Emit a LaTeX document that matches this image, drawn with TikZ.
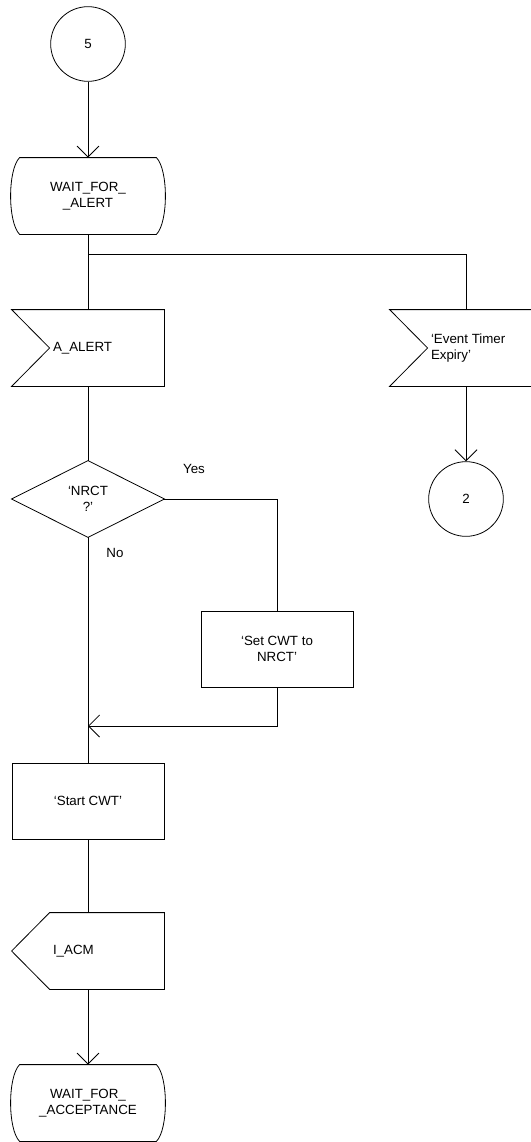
\documentclass[tikz,border=0pt]{standalone}
\usepackage{fontspec}
\setmainfont{Liberation Sans}
\usetikzlibrary{arrows.meta,calc}

\newcommand{\sdlstateoutline}[1]{\draw ([xshift=6pt]#1.north west) -- ([xshift=-6pt]#1.north east) .. controls +(9pt,-9pt) and +(9pt,9pt) .. ([xshift=-6pt]#1.south east) -- ([xshift=6pt]#1.south west) .. controls +(-9pt,9pt) and +(-9pt,-9pt) .. ([xshift=6pt]#1.north west) -- cycle;}
\newcommand{\sdlinputoutline}[1]{\draw (#1.north west) -- (#1.north east) -- (#1.south east) -- (#1.south west) -- ([xshift=28.5pt]#1.west) -- cycle;}
\newcommand{\sdloutputoutline}[1]{\draw ([xshift=28.5pt]#1.north west) -- (#1.north east) -- (#1.south east) -- ([xshift=28.5pt]#1.south west) -- (#1.west) -- cycle;}

\begin{document}
\begin{tikzpicture}[x=0.75pt,y=-0.75pt,
  every node/.style={font=\fontsize{10}{12}\selectfont},
  every path/.style={line width=0.6pt},
  sz/.style={minimum width=114pt, minimum height=57pt, inner sep=0pt, align=center},
  taskbox/.style={sz, draw},
  conn/.style={circle, draw, minimum size=56pt, inner sep=0pt},
  lbl/.style={anchor=west, inner sep=0pt, align=left, xshift=30.75pt},
  arr/.style={-{Straight Barb[length=8.25pt,width=16.5pt]}}
]
\useasboundingbox (0,0) rectangle (531,1142);

% nodes
\node[conn] (c5) at (88,44) {5};
\node[sz] (s1) at (88,196) {WAIT\_FOR\_\\\_ALERT};
\sdlstateoutline{s1}
\coordinate (j) at (88,254);
\node[sz, label={[lbl]west:A\_ALERT}] (in1) at (88,348) {};
\sdlinputoutline{in1}
\node[sz, label={[lbl]west:{`Event Timer\\Expiry'}}] (in2) at (466,348) {};
\sdlinputoutline{in2}
\node[conn] (c2) at (466,499) {2};
\node[sz] (d) at (88,499) {`NRCT\\?'};
\draw (d.north) -- (d.east) -- (d.south) -- (d.west) -- cycle;
\node (yes) at (194,469) {Yes};
\node (no) at (115,553) {No};
\node[taskbox] (t1) at (277,649) {`Set CWT to\\NRCT'};
\coordinate (m) at (88,726);
\node[taskbox] (t2) at (88,801) {`Start CWT'};
\node[sz, label={[lbl]west:I\_ACM}] (o1) at (88,951) {};
\sdloutputoutline{o1}
\node[sz] (s2) at (88,1103) {WAIT\_FOR\_\\\_ACCEPTANCE};
\sdlstateoutline{s2}

% connectors
\draw[arr] (c5.south) -- (s1.north);
\draw (s1.south) -- (in1.north);
\draw (j) -| (in2.north);
\draw[arr] (in2.south) -- (c2.north);
\draw (in1.south) -- (d.north);
\draw (d.east) -| (t1.north);
\draw (d.south) -- (t2.north);
\draw[arr] (t1.south) |- (m);
\draw (t2.south) -- (o1.north);
\draw[arr] (o1.south) -- (s2.north);
\end{tikzpicture}
\end{document}
